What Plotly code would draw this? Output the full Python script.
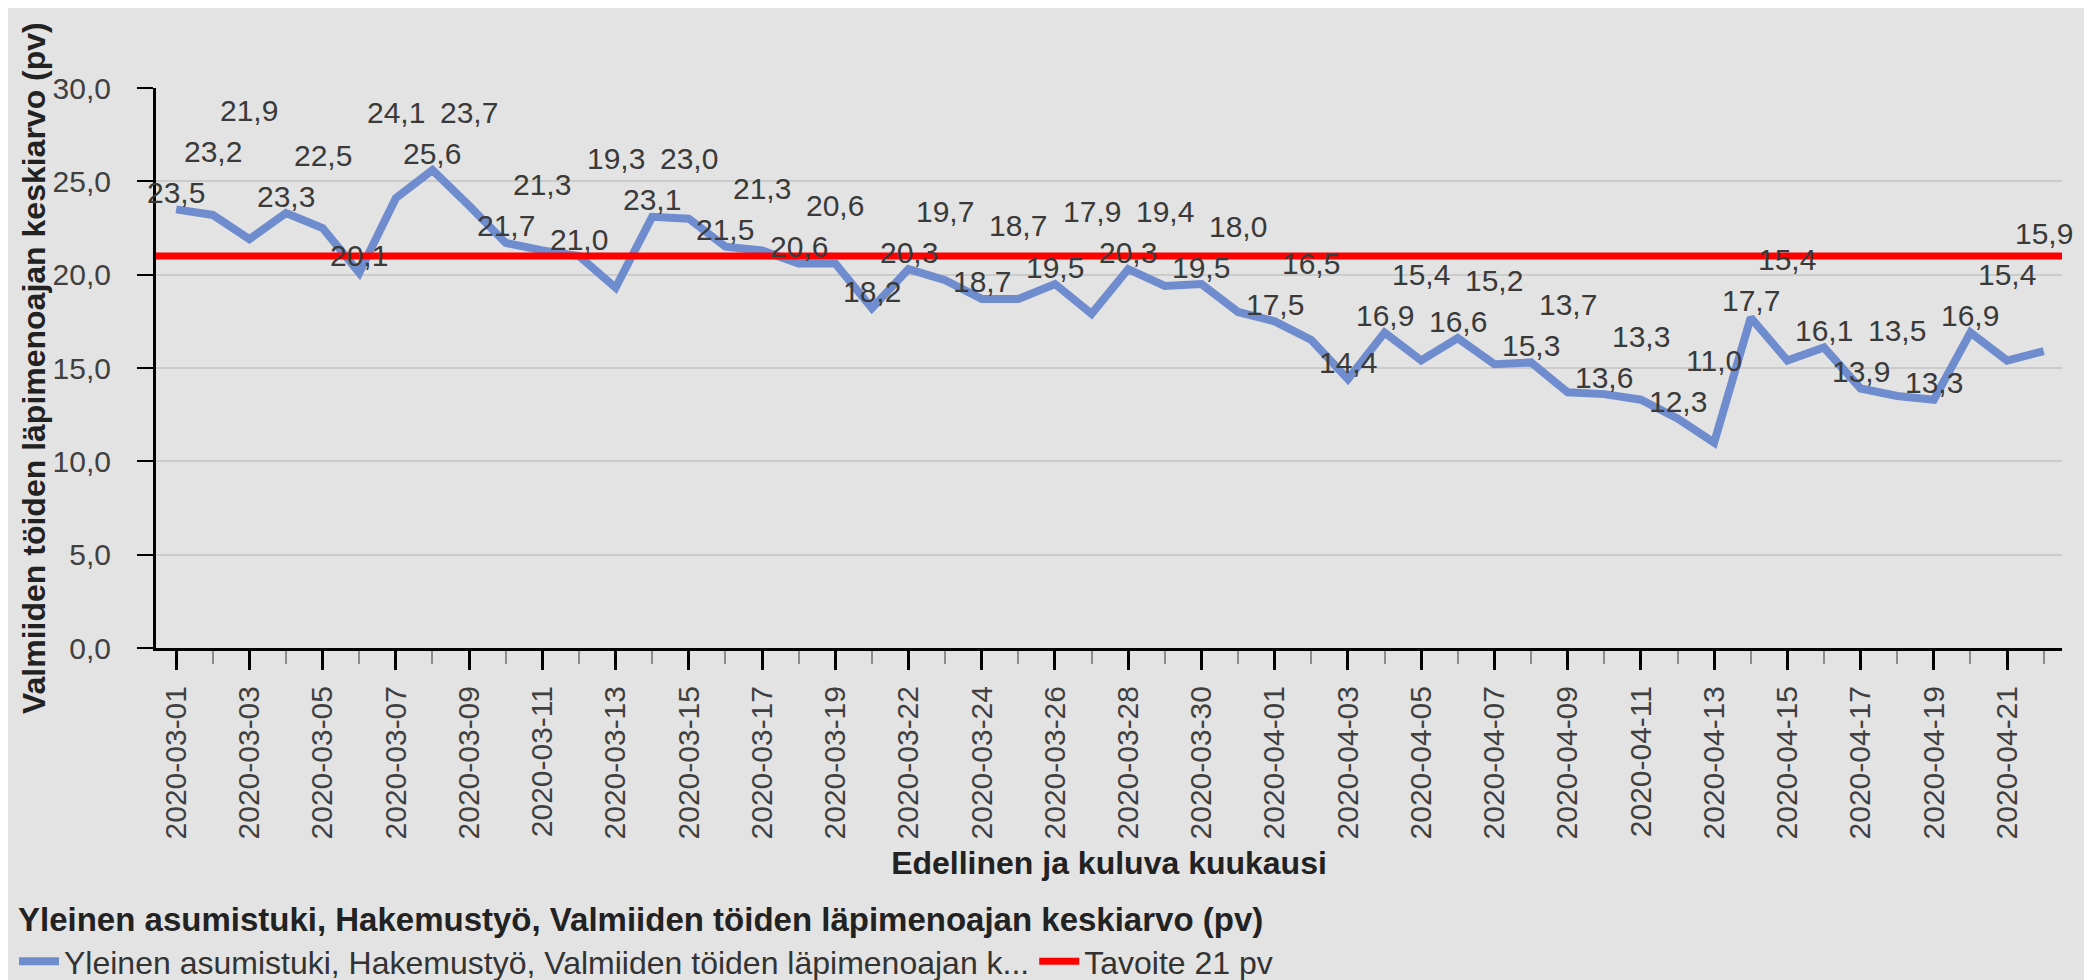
import plotly.graph_objects as go

# ---------------- data ----------------
DATES = [
    "2020-03-01", "2020-03-02", "2020-03-03", "2020-03-04", "2020-03-05",
    "2020-03-06", "2020-03-07", "2020-03-08", "2020-03-09", "2020-03-10",
    "2020-03-11", "2020-03-12", "2020-03-13", "2020-03-14", "2020-03-15",
    "2020-03-16", "2020-03-17", "2020-03-18", "2020-03-19", "2020-03-20",
    "2020-03-22", "2020-03-23", "2020-03-24", "2020-03-25", "2020-03-26",
    "2020-03-27", "2020-03-28", "2020-03-29", "2020-03-30", "2020-03-31",
    "2020-04-01", "2020-04-02", "2020-04-03", "2020-04-04", "2020-04-05",
    "2020-04-06", "2020-04-07", "2020-04-08", "2020-04-09", "2020-04-10",
    "2020-04-11", "2020-04-12", "2020-04-13", "2020-04-14", "2020-04-15",
    "2020-04-16", "2020-04-17", "2020-04-18", "2020-04-19", "2020-04-20",
    "2020-04-21", "2020-04-22",
]
VALUES = [
    23.5, 23.2, 21.9, 23.3, 22.5, 20.1, 24.1, 25.6, 23.7, 21.7,
    21.3, 21.0, 19.3, 23.1, 23.0, 21.5, 21.3, 20.6, 20.6, 18.2,
    20.3, 19.7, 18.7, 18.7, 19.5, 17.9, 20.3, 19.4, 19.5, 18.0,
    17.5, 16.5, 14.4, 16.9, 15.4, 16.6, 15.2, 15.3, 13.7, 13.6,
    13.3, 12.3, 11.0, 17.7, 15.4, 16.1, 13.9, 13.5, 13.3, 16.9,
    15.4, 15.9,
]
TARGET = 21
SERIES_NAME = "Yleinen asumistuki, Hakemustyö, Valmiiden töiden läpimenoajan k..."
TARGET_NAME = "Tavoite 21 pv"
LEGEND_TITLE = "Yleinen asumistuki, Hakemustyö, Valmiiden töiden läpimenoajan keskiarvo (pv)"
Y_TITLE = "Valmiiden töiden läpimenoajan keskiarvo (pv)"
X_TITLE = "Edellinen ja kuluva kuukausi"
Y_RANGE = [0, 30]

# ---------------- layout constants ----------------
FIG_W, FIG_H = 2076, 972
M_L, M_R, M_T, M_B = 148, 22, 80, 332
X_RANGE = [-0.55, len(VALUES) - 0.5]
FONT = "Liberation Sans, Arial, Helvetica, sans-serif"
BG = "#e3e3e3"
TXT = "#3a3a3a"
TITLE_C = "#222222"

plot_h = FIG_H - M_T - M_B
plot_w = FIG_W - M_L - M_R
ppu_y = plot_h / (Y_RANGE[1] - Y_RANGE[0])
ppu_x = plot_w / (X_RANGE[1] - X_RANGE[0])


def paper_x(px):
    """figure pixel x -> paper fraction"""
    return (px - M_L) / plot_w


def paper_y(py):
    """figure pixel y (from top) -> paper fraction"""
    return (FIG_H - M_B - py) / plot_h


x_idx = list(range(len(DATES)))


def fmt(v):
    return f"{v:.1f}".replace(".", ",")


# --- data label placement: above point, pushed up when colliding ---
LIFT, GAP_MIN, STEP, HALF_W = 17, 38, 41, 29


def label_lifts(vals):
    n = len(vals)
    py = [(Y_RANGE[1] - v) * ppu_y for v in vals]
    base = [p - LIFT for p in py]
    final = []
    for i in range(n):
        cand = base[i]
        edge = (X_RANGE[1] - i) * ppu_x < HALF_W
        for _ in range(20):
            blockers = []
            if i > 0 and abs(cand - final[i - 1]) < GAP_MIN:
                blockers.append(final[i - 1])
            if i + 1 < n and base[i + 1] < base[i] and abs(cand - base[i + 1]) < GAP_MIN:
                blockers.append(base[i + 1])
            if edge and i > 0 and cand > final[i - 1] - STEP:
                blockers.append(final[i - 1])
            if not blockers:
                break
            cand = min(blockers) - STEP
        final.append(cand)
    return [p - f for p, f in zip(py, final)]


lifts = label_lifts(VALUES)

fig = go.Figure()
fig.add_trace(go.Scatter(
    x=x_idx, y=VALUES, mode="lines", name=SERIES_NAME,
    line=dict(color="#6e8cce", width=8),
    customdata=DATES, hovertemplate="%{customdata}: %{y:.1f}<extra></extra>",
))
fig.add_shape(
    type="line", xref="paper", x0=0, x1=1, yref="y", y0=TARGET, y1=TARGET,
    line=dict(color="#ff0000", width=7), layer="above",
    showlegend=True, name=TARGET_NAME,
)

annotations = []
for i, v in enumerate(VALUES):
    annotations.append(dict(
        x=i, y=v, xref="x", yref="y", text=fmt(v), showarrow=False,
        xanchor="center", yanchor="middle", yshift=lifts[i],
        font=dict(family=FONT, size=30, color=TXT),
    ))

# y-axis title
annotations.append(dict(
    x=paper_x(26), y=0.5, xref="paper", yref="paper", text=Y_TITLE,
    textangle=-90, showarrow=False, xanchor="center", yanchor="middle",
    font=dict(family=FONT, size=32, color=TITLE_C, weight="bold"),
))
# legend title
annotations.append(dict(
    x=paper_x(8), y=paper_y(911), xref="paper", yref="paper", text=LEGEND_TITLE,
    showarrow=False, xanchor="left", yanchor="middle",
    font=dict(family=FONT, size=33, color=TITLE_C, weight="bold"),
))

fig.update_layout(
    width=FIG_W, height=FIG_H,
    margin=dict(l=M_L, r=M_R, t=M_T, b=M_B, pad=0),
    paper_bgcolor=BG, plot_bgcolor=BG,
    separators=", ",
    font=dict(family=FONT, size=30, color=TXT),
    annotations=annotations,
    showlegend=True,
    legend=dict(
        orientation="h", xref="container", yref="container",
        x=6 / FIG_W, y=1 - 926 / FIG_H, xanchor="left", yanchor="top",
        bgcolor="rgba(0,0,0,0)", font=dict(family=FONT, size=32, color="#333333"),
        itemwidth=40, tracegroupgap=0,
    ),
    xaxis=dict(
        range=X_RANGE, tickmode="array",
        tickvals=x_idx[::2], ticktext=DATES[::2], tickangle=-90,
        ticks="outside", ticklen=19, tickwidth=3, tickcolor="#000000",
        ticklabelstandoff=4,
        minor=dict(tickmode="array", tickvals=x_idx[1::2], ticks="outside",
                   ticklen=13, tickwidth=2, tickcolor="#8c8c8c", showgrid=False),
        showline=True, linecolor="#000000", linewidth=3,
        showgrid=False, zeroline=False,
        tickfont=dict(family=FONT, size=30, color="#404040"),
        title=dict(text=X_TITLE, standoff=14,
                   font=dict(family=FONT, size=32, color=TITLE_C, weight="bold")),
    ),
    yaxis=dict(
        range=Y_RANGE, tick0=0, dtick=5, tickformat=".1f",
        ticks="outside", ticklen=16, tickwidth=2, tickcolor="#000000",
        ticklabelstandoff=20,
        showline=True, linecolor="#000000", linewidth=3,
        showgrid=True, gridcolor="#cbcbcb", gridwidth=2, zeroline=False,
        tickfont=dict(family=FONT, size=30, color="#404040"),
    ),
)

fig.write_html(
    "out.html",
    post_script="document.documentElement.style.overflow='hidden';"
                "document.body.style.overflow='hidden';",
)
